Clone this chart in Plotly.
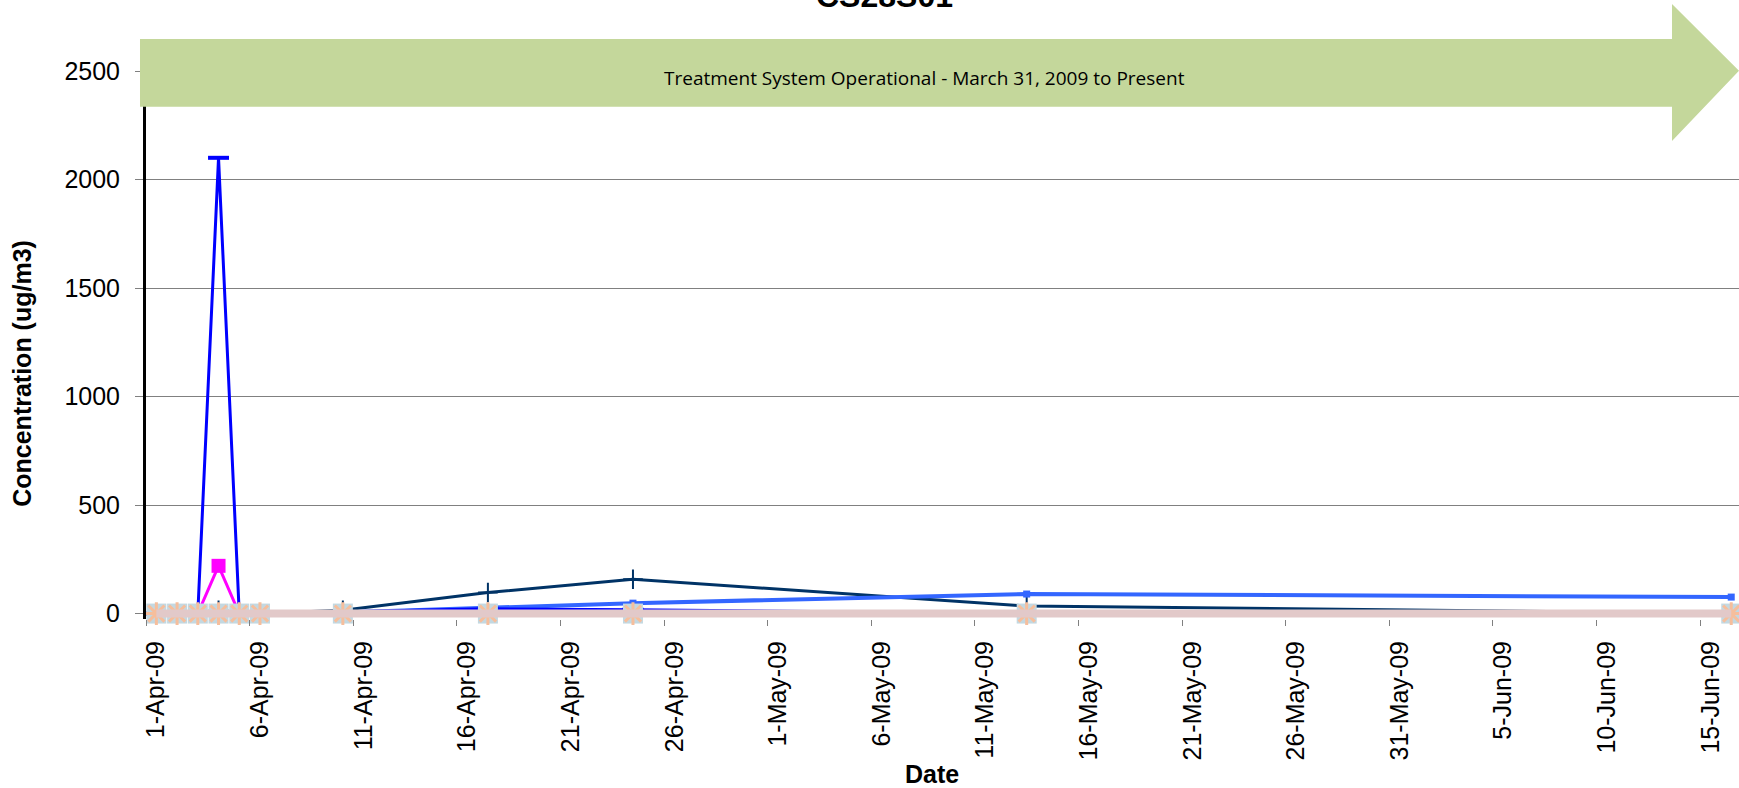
import plotly.graph_objects as go

# sample dates and concentrations (ug/m3)
dates = ["2009-04-01", "2009-04-02", "2009-04-03", "2009-04-04", "2009-04-05", "2009-04-06",
         "2009-04-10", "2009-04-17", "2009-04-24", "2009-05-13", "2009-06-16"]
navy_vals = [0, 0, 0, 15, 0, 0, 15, 97, 158, 35, 0]
royal_vals = [0, 0, 0, 0, 0, 0, 5, 25, 48, 90, 76]
blue_vals = [0, 0, 0, 2100, 0, 0, 8, 22, 18, 0, 0]
magenta_vals = [0, 0, 0, 220, 0, 0, 0, 0, 0, 0, 0]
nd_vals = [0, 0, 0, 0, 0, 0, 0, 0, 0, 0, 0]

y_ticks = [0, 500, 1000, 1500, 2000, 2500]
title_text = "CS28S01"
banner_text = "Treatment System Operational - March 31, 2009 to Present"

W, H = 1739, 788
L, R, T, B = 146, 0, 71, 168.6
PW, PH = W - L - R, H - T - B


def px(x):
    return (x - L) / PW


def py(y):
    return (H - B - y) / PH


fig = go.Figure()

fig.add_trace(go.Scatter(x=dates, y=navy_vals, mode="lines+markers",
                         line=dict(color="#003366", width=3),
                         marker=dict(symbol="cross-thin", size=14, line=dict(color="#003366", width=2))))
fig.add_trace(go.Scatter(x=dates, y=royal_vals, mode="lines+markers",
                         line=dict(color="#3366FF", width=4),
                         marker=dict(symbol="square", size=7, color="#3366FF")))
fig.add_trace(go.Scatter(x=dates, y=blue_vals, mode="lines+markers",
                         line=dict(color="#0000FF", width=3),
                         marker=dict(symbol="line-ew", size=15, line=dict(color="#0000FF", width=4))))
fig.add_trace(go.Scatter(x=dates, y=magenta_vals, mode="lines+markers",
                         line=dict(color="#FF00FF", width=3),
                         marker=dict(symbol="square", size=14, color="#FF00FF")))
# non-detect series sitting on the zero line
fig.add_trace(go.Scatter(x=dates, y=nd_vals, mode="markers", cliponaxis=False,
                         marker=dict(symbol="square", size=20, color="#C3D8E1")))
fig.add_trace(go.Scatter(x=dates, y=nd_vals, mode="markers", cliponaxis=False,
                         marker=dict(symbol="asterisk-open", size=19, color="#F6BE9C",
                                     line=dict(width=3))))
fig.add_trace(go.Scatter(x=dates, y=nd_vals, mode="lines", cliponaxis=False,
                         line=dict(color="#E2C9C9", width=8)))

# green banner arrow
arrow = [(140, 39), (1672, 39), (1672, 4), (1739, 70.7), (1672, 141), (1672, 106.7), (140, 106.7)]
path = "M " + " L ".join(f"{px(x):.5f},{py(y):.5f}" for x, y in arrow) + " Z"
fig.add_shape(type="path", path=path, xref="paper", yref="paper",
              fillcolor="#C4D79B", line=dict(width=0), layer="above")

fig.add_annotation(text=banner_text, x=px(924), y=py(63), xref="paper", yref="paper",
                   xanchor="center", showarrow=False,
                   font=dict(family="Open Sans", size=19, color="black"))
fig.add_annotation(text="<b>" + title_text + "</b>", x=px(884), y=py(16), xref="paper", yref="paper",
                   xanchor="center", yanchor="bottom", showarrow=False,
                   font=dict(family="Liberation Sans, Arial", size=32, color="black"))
fig.add_annotation(text="<b>Concentration (ug/m3)</b>", x=px(22), y=py(374), xref="paper", yref="paper",
                   xanchor="center", yanchor="middle", textangle=-90, showarrow=False,
                   font=dict(family="Liberation Sans, Arial", size=25, color="black"))
fig.add_annotation(text="<b>Date</b>", x=px(932), y=py(775), xref="paper", yref="paper",
                   xanchor="center", yanchor="middle", showarrow=False,
                   font=dict(family="Liberation Sans, Arial", size=25, color="black"))

fig.update_layout(
    width=W, height=H,
    margin=dict(l=L, r=R, t=T, b=B),
    plot_bgcolor="white", paper_bgcolor="white",
    showlegend=False,
    font=dict(family="Liberation Sans, Arial", size=25, color="black"),
    xaxis=dict(type="date", range=["2009-03-31 12:00", "2009-06-16 09:00"],
               tick0="2009-04-01", dtick=5 * 86400000, tickformat="%-d-%b-%y",
               tickangle=-90, ticks="outside", ticklen=11, tickcolor="rgba(0,0,0,0)",
               minor=dict(ticks="outside", ticklen=6, tickcolor="#808080",
                          tick0="2009-03-31 12:00", dtick=5 * 86400000, showgrid=False),
               showgrid=False, zeroline=False, showline=False),
    yaxis=dict(range=[-25, 2500], tickvals=y_ticks, ticks="outside", ticklen=8,
               tickcolor="#808080", ticklabelstandoff=10,
               showgrid=True, gridcolor="#808080", gridwidth=1,
               zeroline=False, showline=True, linecolor="black", linewidth=3),
)

fig.write_html("out.html", config={"displayModeBar": False},
               post_script="document.body.style.margin='0';")
